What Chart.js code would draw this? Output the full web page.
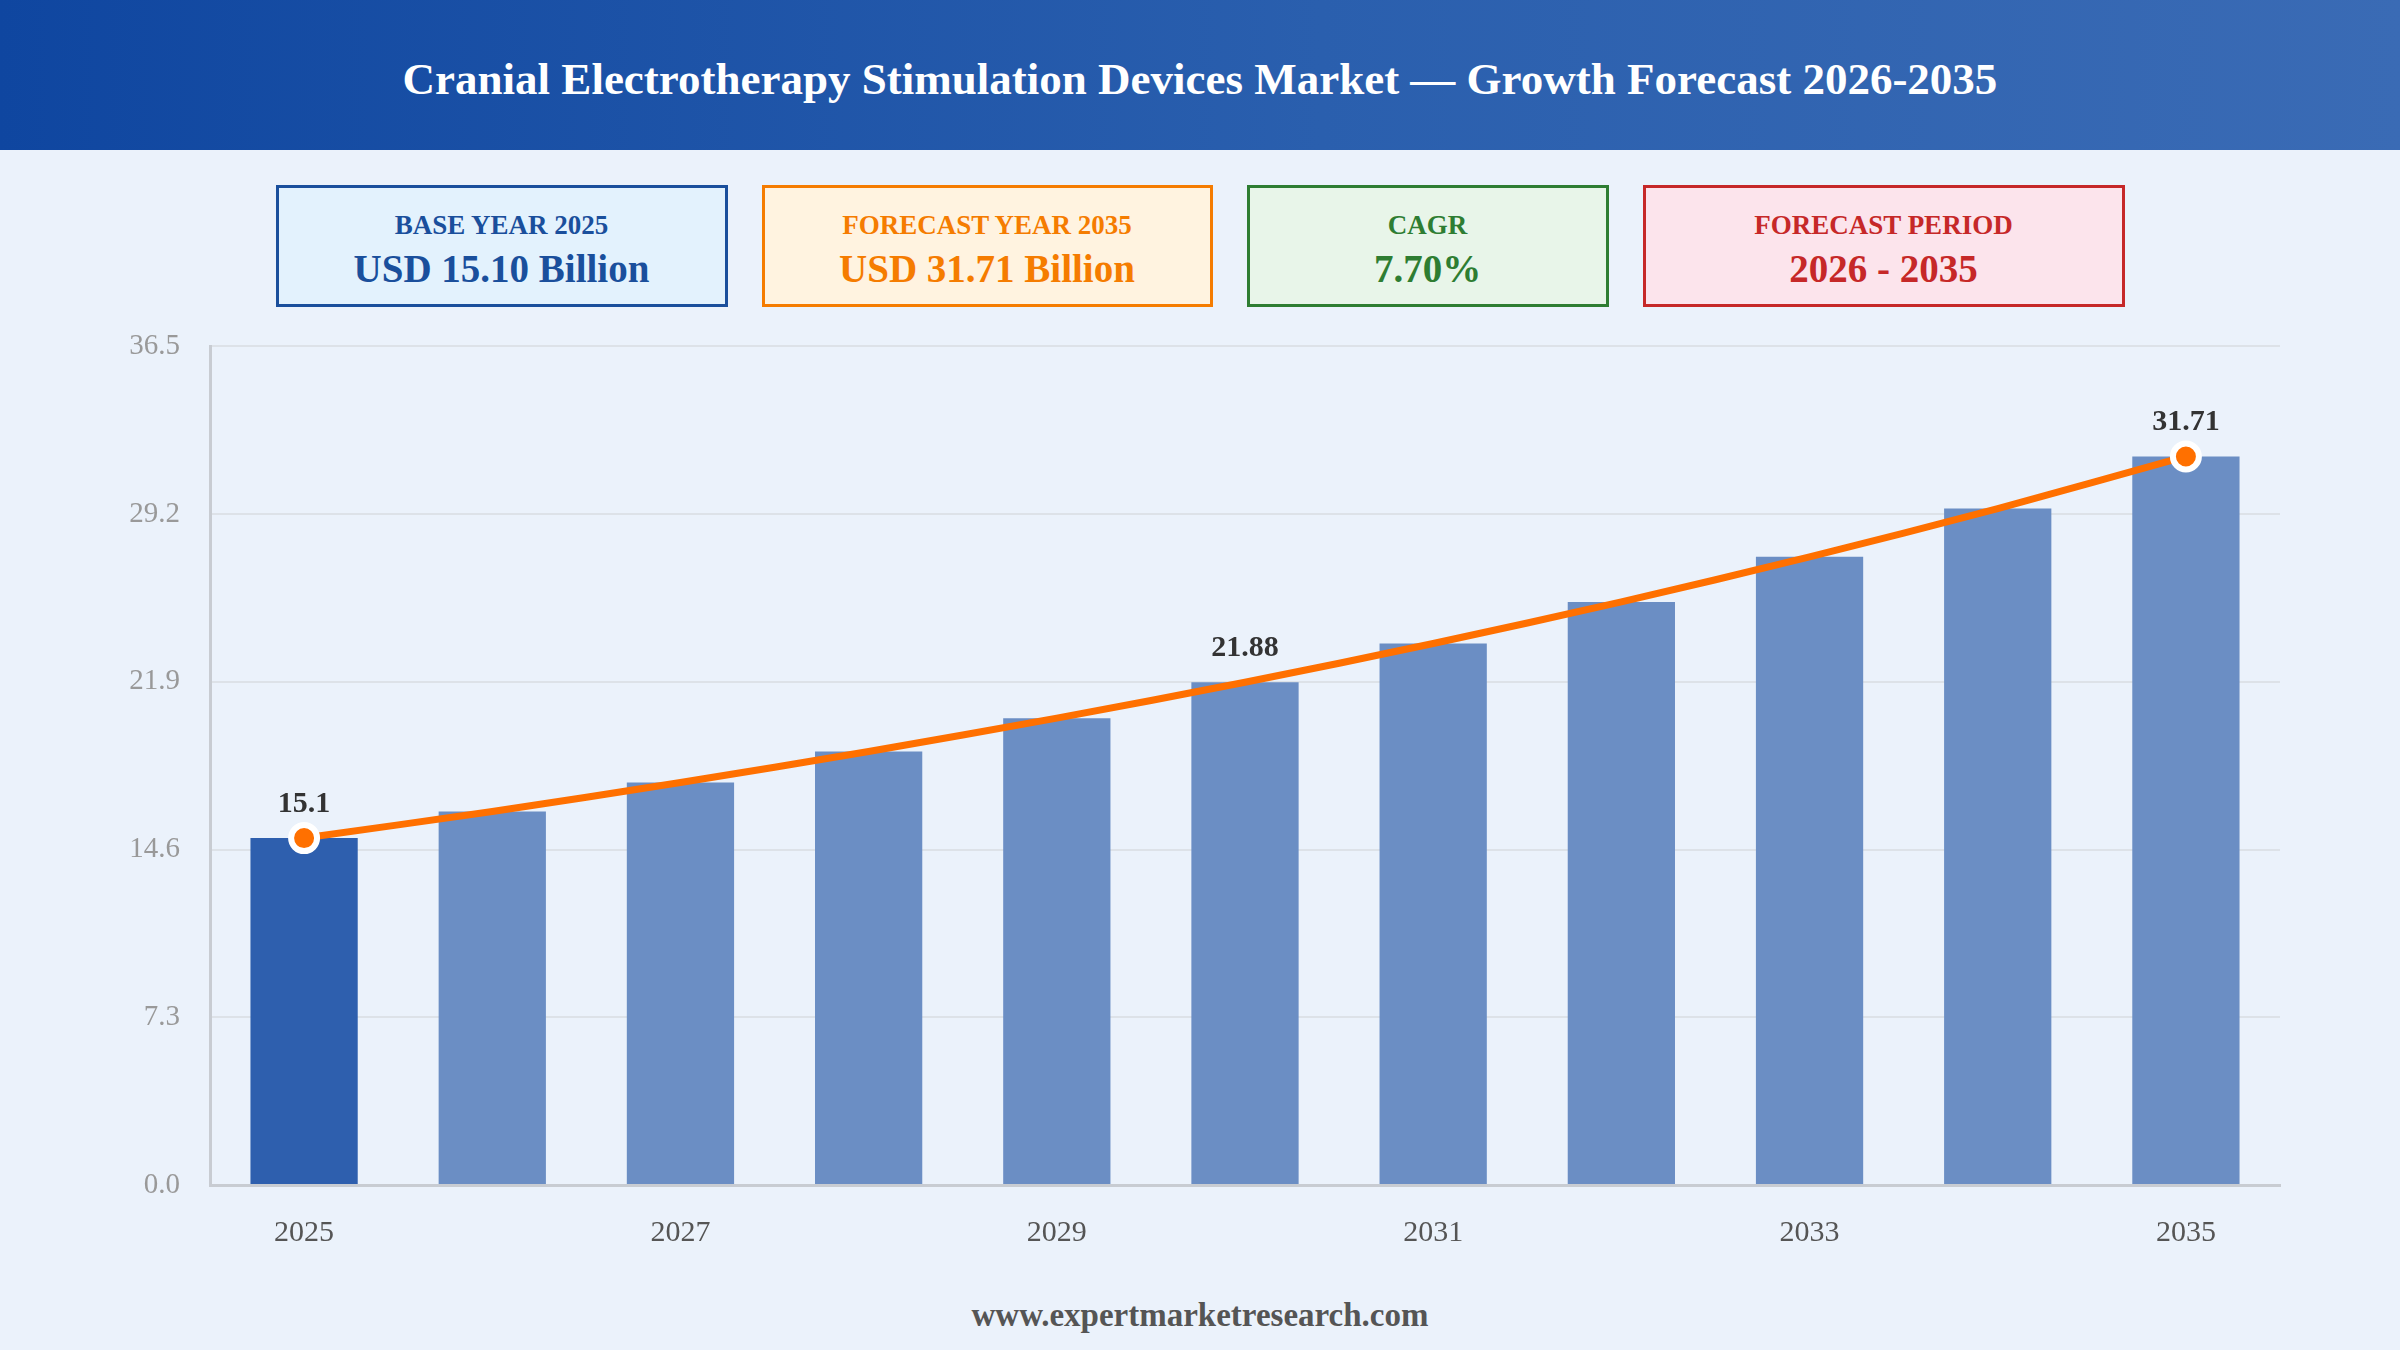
<!DOCTYPE html>
<html>
<head>
<meta charset="utf-8">
<script src="https://cdn.jsdelivr.net/npm/chart.js@4.4.1/dist/chart.umd.min.js"></script>
<style>
  html, body { margin:0; padding:0; }
  body { width:2400px; height:1350px; background:#ebf2fb; position:relative; overflow:hidden; font-family:"Liberation Serif","Times New Roman",serif; }
  #header { position:absolute; left:0; top:0; width:2400px; height:150px; background:linear-gradient(90deg,#0f46a0 0%,#2a5fae 55%,#3a6bb5 100%); display:flex; align-items:center; justify-content:center; }
  #header h1 { margin:0; color:#fff; font-size:45px; font-weight:bold; font-family:"Liberation Serif",serif; position:relative; top:4px; }
  #cards { position:absolute; top:185px; left:0; width:2400px; display:flex; justify-content:center; gap:34px; }
  .card { box-sizing:border-box; height:122px; padding-top:10px; border:3px solid; display:flex; flex-direction:column; align-items:center; justify-content:center; }
  .card .t { font-size:27px; font-weight:bold; line-height:30px; }
  .card .v { font-size:39px; font-weight:bold; line-height:46px; margin-top:6px; }
  #footer { position:absolute; top:1297px; left:0; width:2400px; text-align:center; font-size:33px; font-weight:bold; color:#555; }
  #wrap { position:absolute; left:0; top:299px; width:2400px; height:961px; }
</style>
</head>
<body>
<div id="header"><h1>Cranial Electrotherapy Stimulation Devices Market — Growth Forecast 2026-2035</h1></div>
<div id="cards">
  <div class="card" style="width:452px;border-color:#1a4f9c;background:#e3f2fd;color:#1a4f9c"><div class="t">BASE YEAR 2025</div><div class="v">USD 15.10 Billion</div></div>
  <div class="card" style="width:451px;border-color:#f57c00;background:#fff3e0;color:#f57c00"><div class="t">FORECAST YEAR 2035</div><div class="v">USD 31.71 Billion</div></div>
  <div class="card" style="width:362px;border-color:#2e7d32;background:#e8f5e9;color:#2e7d32"><div class="t">CAGR</div><div class="v">7.70%</div></div>
  <div class="card" style="width:482px;border-color:#c62828;background:#fce4ec;color:#c62828"><div class="t">FORECAST PERIOD</div><div class="v">2026 - 2035</div></div>
</div>
<div id="wrap"><canvas id="c"></canvas></div>
<div id="footer">www.expertmarketresearch.com</div>
<script>
const years = ['2025','2026','2027','2028','2029','2030','2031','2032','2033','2034','2035'];
const marketValues = [15.10, 16.26, 17.52, 18.87, 20.32, 21.88, 23.57, 25.38, 27.34, 29.44, 31.71];
const yTicks = [0, 7.3, 14.6, 21.9, 29.2, 36.5];
const labeledIdx = [0, 5, 10];

const barColors = years.map((y,i) => i === 0 ? '#2e5fae' : '#6b8ec4');
const pointRadii = years.map((y,i) => (i === 0 || i === years.length-1) ? 13 : 0);

const labelPlugin = {
  id: 'valueLabels',
  afterDatasetsDraw(chart) {
    const ctx = chart.ctx;
    const meta = chart.getDatasetMeta(1);
    ctx.save();
    ctx.font = 'bold 30px "Liberation Serif", serif';
    ctx.fillStyle = '#333333';
    ctx.textAlign = 'center';
    ctx.textBaseline = 'middle';
    labeledIdx.forEach(i => {
      const el = meta.data[i];
      ctx.fillText(String(marketValues[i]), el.x, el.y - 34);
    });
    ctx.restore();
  }
};

new Chart(document.getElementById('c'), {
  data: {
    labels: years,
    datasets: [
      { type:'line', data: marketValues, borderColor:'#ff7000', borderWidth:7, tension:0.3,
        pointRadius: pointRadii, pointHoverRadius: pointRadii, pointBackgroundColor:'#ff7000',
        pointBorderColor:'#ffffff', pointBorderWidth:6, order:0, fill:false },
      { type:'bar', data: marketValues, backgroundColor: barColors, categoryPercentage:1.0, barPercentage:0.57, order:1 }
    ]
  },
  options: {
    responsive:true, maintainAspectRatio:false, animation:false,
    layout: { padding: { left:0, right:120, top:26, bottom:0 } },
    plugins: { legend:{display:false}, tooltip:{enabled:false} },
    scales: {
      x: {
        grid: { display:false, drawTicks:false },
        border: { display:true, color:'#c8ccd2', width:3 },
        ticks: { autoSkip:false, maxRotation:0, padding:30, color:'#555555',
          font:{ family:'"Liberation Serif", serif', size:30 },
          callback: (v, i) => (i % 2 === 0 ? years[i] : '') },
        afterFit: s => { s.height = 75; }
      },
      y: {
        min:0, max:36.5,
        afterBuildTicks: s => { s.ticks = yTicks.map(v => ({ value:v })); },
        grid: { color:'#dde2e8', lineWidth:2, drawTicks:false },
        border: { display:true, color:'#c8ccd2', width:3 },
        ticks: { padding:30, color:'#999999', font:{ family:'"Liberation Serif", serif', size:29 },
          callback: v => Number(v).toFixed(1) },
        afterFit: s => { s.width = 210; }
      }
    }
  },
  plugins: [labelPlugin]
});
</script>
</body>
</html>
